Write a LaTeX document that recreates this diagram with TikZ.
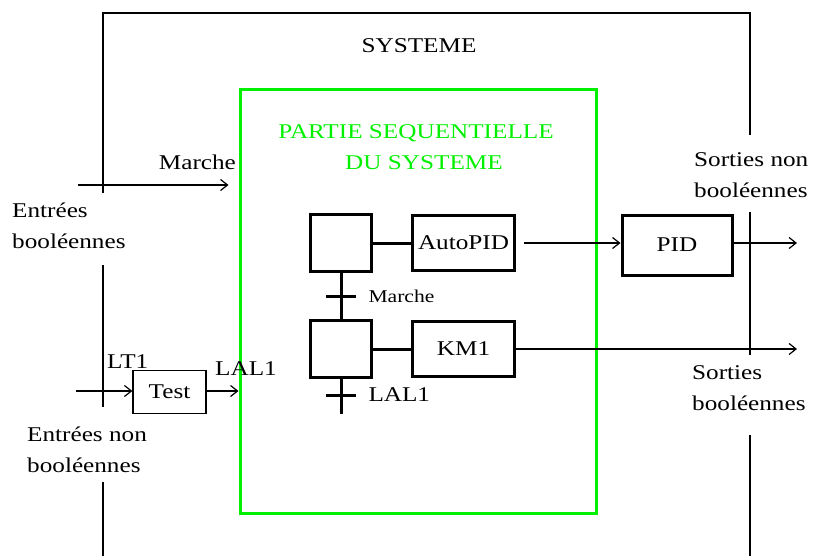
\documentclass[tikz,border=0pt]{standalone}
\usepackage{fontspec}
\setmainfont[FakeStretch=1.2]{Liberation Serif}
\usetikzlibrary{positioning,arrows.meta,calc}
\definecolor{seqgreen}{HTML}{00F000}
\newcommand{\txtnorm}{\fontsize{21}{31}\selectfont}
\newcommand{\txtpetit}{\fontsize{18}{22}\selectfont}
\tikzset{
  etape/.style    = {rectangle, draw, line width=3pt, minimum width=61pt,
                     minimum height=57pt, inner sep=0pt},
  action/.style   = {rectangle, draw, line width=3pt, minimum width=102pt,
                     minimum height=55pt, inner sep=0pt, font=\txtnorm},
  testbox/.style  = {rectangle, draw, line width=1.2pt, minimum width=73pt,
                     minimum height=43pt, inner sep=0pt, font=\txtnorm},
  seqcadre/.style = {rectangle, draw=seqgreen, line width=3pt, minimum width=356pt,
                     minimum height=423pt, inner sep=0pt},
  flow/.style     = {-{Straight Barb[length=7pt,width=11pt]}, line width=1.2pt},
  lien/.style     = {line width=1.2pt},
  liaison/.style  = {line width=3pt},
  lbl/.style      = {font=\txtnorm, inner sep=0pt, align=left},
  lblpetit/.style = {font=\txtpetit, inner sep=0pt},
}
\begin{document}
\begin{tikzpicture}[x=1pt, y=-1pt, node distance=38pt]
  \useasboundingbox (0,0) rectangle (813,556);

  % cadre du systeme
  \draw[lien] (103,193) -- (103,13) -- (750,13) -- (750,135);
  \draw[lien] (103,265) -- (103,407);
  \draw[lien] (103,482) -- (103,556);
  \draw[lien] (750,212) -- (750,355);
  \draw[lien] (750,435) -- (750,556);
  \node[lbl, anchor=base] (systeme) at (419,53) {SYSTEME};

  % partie sequentielle
  \node[seqcadre] (seq) at (418,301.5) {};
  \node[lbl, align=center, text=seqgreen, anchor=base] (seqtitre) at (416,170)
    {PARTIE SEQUENTIELLE\\\hspace*{16pt}DU SYSTEME};

  % grafcet
  \node[etape] (e1) at (341,243) {};
  \node[etape, below=46pt of e1] (e2) {};
  \node[action, right=of e1] (autopid) {AutoPID};
  \node[action, right=of e2] (km1) {KM1};
  \coordinate (e2bas) at ($(e2.south)+(0,35)$);
  \draw[liaison] (e1) -- (autopid);
  \draw[liaison] (e2) -- (km1);
  \draw[liaison] (e1.south) -- (e2.north);
  \draw[liaison] (e2.south) -- (e2bas);
  \draw[liaison] ($(e1.south)!0.5!(e2.north)+(-15,0)$) -- ++(30,0)
    node[lblpetit, anchor=west, xshift=11pt] (tmarche) {Marche};
  \draw[liaison] ($(e2.south)+(-15,16)$) -- ++(30,0)
    node[lbl, anchor=west, xshift=11pt] (tlal1) {LAL1};

  % bloc PID et sorties
  \node[action, minimum width=110pt, minimum height=60pt] (pid) at (677,245) {PID};
  \coordinate (sortpid) at (797,243);
  \coordinate (sortkm1) at (km1.east -| sortpid);
  \draw[flow, shorten <=8pt] (autopid.east) -- (autopid.east -| pid.west);
  \draw[flow] (pid.east |- sortpid) -- (sortpid);
  \draw[flow] (km1.east) -- (sortkm1);
  \node[lbl, anchor=base west] (sortnb) at (694,197) {Sorties non\\booléennes};
  \node[lbl, anchor=base west] (sortb) at (692,410) {Sorties\\booléennes};

  % entrees
  \coordinate (marche) at (78,185);
  \draw[flow, shorten >=10pt] (marche) -- (marche -| seq.west)
    node[lbl, anchor=base east, pos=1, xshift=-2pt, yshift=15pt] (lmarche) {Marche};
  \node[lbl, anchor=base west] (entb) at (12,248) {Entrées\\booléennes};

  \node[testbox] (test) at (169.5,392) {Test};
  \coordinate (lt1) at (76,391);
  \draw[flow] (lt1) -- (lt1 -| test.west);
  \draw[flow] (test.east |- lt1) -- (lt1 -| seq.west);
  \node[lbl, anchor=base west] (llt1) at (107,368) {LT1};
  \node[lbl, anchor=base west] (llal1) at (215,375) {LAL1};
  \node[lbl, anchor=base west] (entnb) at (27,472) {Entrées non\\booléennes};
\end{tikzpicture}
\end{document}
